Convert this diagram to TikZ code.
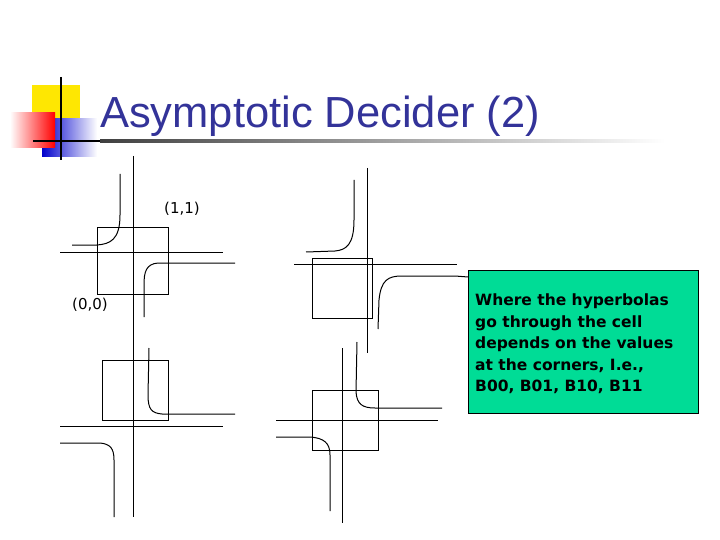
\documentclass[tikz,border=0pt]{standalone}
\usepackage{fontspec}
\setmainfont{Liberation Sans}
\newfontfamily\boxfont{DejaVu Sans}
\definecolor{titleblue}{RGB}{51,51,153}
\definecolor{boxgreen}{RGB}{0,220,150}
\begin{document}
\begin{tikzpicture}[x=1pt,y=-1pt,
  ln/.style={line width=1pt,black},
  hyp/.style={line width=1pt,black},
  cellbox/.style={draw,line width=1pt},
  lbl/.style={font=\boxfont\fontsize{15}{17}\selectfont,inner sep=0pt}]
\useasboundingbox (0,0) rectangle (720,540);
% logo
\fill[yellow!90!orange] (32,85) rectangle (80,120);
\shade[left color=blue!80!black, right color=white] (42,119) rectangle (97,157);
\shade[left color=white, right color=red] (10,113) rectangle (55,148);
\draw[line width=2pt] (61,77) -- (61,160);
\draw[line width=2pt] (33,141) -- (100,141);
\shade[left color=black!75, right color=white] (100,140) rectangle (665,142.5);
\node[anchor=base west,text=titleblue,font=\fontsize{43.5}{48}\selectfont,inner sep=0pt] (title) at (100,128) {Asymptotic Decider (2)};
% long shared vertical asymptote
\draw[ln] (133,156) -- (133,517);
% diagram 1
\node[cellbox,minimum width=71pt,minimum height=66pt,inner sep=0pt] (c1) at (132.5,261) {};
\draw[ln] (60,252) -- (223,252);
\draw[hyp] (120,174) -- (120,215) .. controls (120,240) and (110,244) .. (97,245) -- (72,245);
\draw[hyp] (235,263) -- (158,263) .. controls (146,264) and (144,272) .. (144,285) -- (144,317);
\node[lbl] (l11) at (182,209) {(1,1)};
\node[lbl] (l00) at (90,305) {(0,0)};
% diagram 2
\node[cellbox,minimum width=60pt,minimum height=60pt,inner sep=0pt] (c2) at (342,288) {};
\draw[ln] (367,168) -- (367,353);
\draw[ln] (294,264) -- (457,264);
\draw[hyp] (354,180) -- (354,220) .. controls (354,245) and (346,250) .. (335,251) -- (306,252);
\draw[hyp] (378,329) -- (379,300) .. controls (381,280) and (388,276) .. (402,276) -- (455,276) -- (468,277);
% diagram 3
\node[cellbox,minimum width=66pt,minimum height=60pt,inner sep=0pt] (c3) at (135,390) {};
\draw[ln] (60,426) -- (223,426);
\draw[hyp] (149,348) -- (148,395) .. controls (148,410) and (152,413) .. (162,414) -- (235,414);
\draw[hyp] (60,443) -- (100,443) .. controls (110,444) and (114,448) .. (114,460) -- (114,517);
% diagram 4
\node[cellbox,minimum width=66pt,minimum height=60pt,inner sep=0pt] (c4) at (345,420) {};
\draw[ln] (342,348) -- (342,523);
\draw[ln] (276,420) -- (438,420);
\draw[hyp] (357,342) -- (356,392) .. controls (357,404) and (362,408) .. (375,408) -- (442,408);
\draw[hyp] (276,437) -- (310,437) .. controls (324,438) and (330,443) .. (330,455) -- (330,511);
% green box
\node[draw,line width=1pt,fill=boxgreen,anchor=north west,minimum width=230pt,minimum height=143pt,inner sep=0pt] (gb) at (468,270) {};
\node[anchor=north west,align=left,inner sep=0pt,font=\boxfont\bfseries\fontsize{15.5}{21.5}\selectfont] (gt) at (475,294) {Where the hyperbolas\\go through the cell\\depends on the values\\at the corners, I.e.,\\B00, B01, B10, B11};
\end{tikzpicture}
\end{document}
